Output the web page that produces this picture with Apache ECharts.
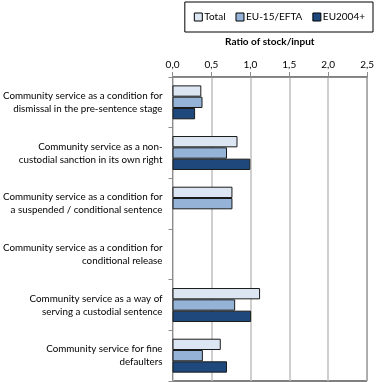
<!DOCTYPE html>
<html style="height: 100%">
<head>
	<meta charset="utf-8">
</head>
<body style="height: 100%; margin: 0; background: #fff">
<div id="container" style="width: 377px; height: 382px"></div>
<script type="text/javascript" src="https://cdn.jsdelivr.net/npm/echarts@6/dist/echarts.min.js"></script>
<script type="text/javascript">
    var categories = [
        'Community service as a condition for\ndismissal in the pre-sentence stage',
        'Community service as a non-\ncustodial sanction in its own right',
        'Community service as a condition for\na suspended / conditional sentence',
        'Community service as a condition for\nconditional release',
        'Community service as a way of\nserving a custodial sentence',
        'Community service for fine\ndefaulters'
    ];
    var total = [0.37, 0.835, 0.77, null, 1.125, 0.62];
    var eu15 = [0.385, 0.70, 0.77, null, 0.805, 0.39];
    var eu2004 = [0.29, 1.0, null, null, 1.01, 0.70];
    var xTicks = ['0,0', '0,5', '1,0', '1,5', '2,0', '2,5'];

    var font = 'Lato, "Open Sans", sans-serif';
    var dom = document.getElementById("container");
    var myChart = echarts.init(dom);

    function bar(name, data, color) {
        return {
            name: name,
            type: 'bar',
            data: data,
            barGap: '0%',
            barCategoryGap: '33%',
            itemStyle: {
                color: color,
                borderColor: '#1a1a1a',
                borderWidth: 1
            }
        };
    }

    var option = {
        backgroundColor: '#fff',
        animation: false,
        textStyle: { fontFamily: font },
        legend: {
            right: 4,
            top: 2,
            padding: [10, 8, 10, 9],
            borderColor: '#000',
            borderWidth: 1,
            icon: 'rect',
            itemWidth: 8,
            itemHeight: 8,
            itemGap: 10,
            itemStyle: { borderColor: '#000', borderWidth: 1 },
            textStyle: { fontFamily: font, fontSize: 10, color: '#000', padding: [0, 0, 0, -3] },
            data: ['Total', 'EU-15/EFTA', 'EU2004+']
        },
        grid: {
            left: 171,
            right: 6,
            top: 77,
            bottom: 1,
            show: true,
            borderColor: '#000',
            borderWidth: 1,
            containLabel: false
        },
        xAxis: {
            type: 'value',
            position: 'top',
            min: 0,
            max: 2.5,
            interval: 0.5,
            name: 'Ratio of stock/input',
            nameLocation: 'middle',
            nameGap: 30,
            nameTextStyle: { fontFamily: font, fontSize: 10, fontWeight: 'bold', color: '#000' },
            axisLine: { show: true, lineStyle: { color: '#8c8c8c', width: 1 } },
            axisTick: { show: true, inside: false, length: 5, lineStyle: { color: '#8c8c8c' } },
            axisLabel: {
                margin: 7,
                fontFamily: font,
                fontSize: 10,
                color: '#000',
                formatter: function (v) { return xTicks[Math.round(v / 0.5)]; }
            },
            splitLine: { show: true, lineStyle: { color: '#bfbfbf', width: 1.5 } }
        },
        yAxis: {
            type: 'category',
            inverse: true,
            data: categories,
            axisLine: { show: true, lineStyle: { color: '#8c8c8c', width: 1 } },
            axisTick: { show: true, length: 4, lineStyle: { color: '#8c8c8c' } },
            axisLabel: {
                margin: 10,
                fontFamily: font,
                fontSize: 9.8,
                lineHeight: 13,
                color: '#000',
                align: 'right'
            }
        },
        series: [
            bar('Total', total, '#dce6f2'),
            bar('EU-15/EFTA', eu15, '#95b3d7'),
            bar('EU2004+', eu2004, '#1f497d')
        ]
    };

    myChart.setOption(option);
</script>
</body>
</html>
